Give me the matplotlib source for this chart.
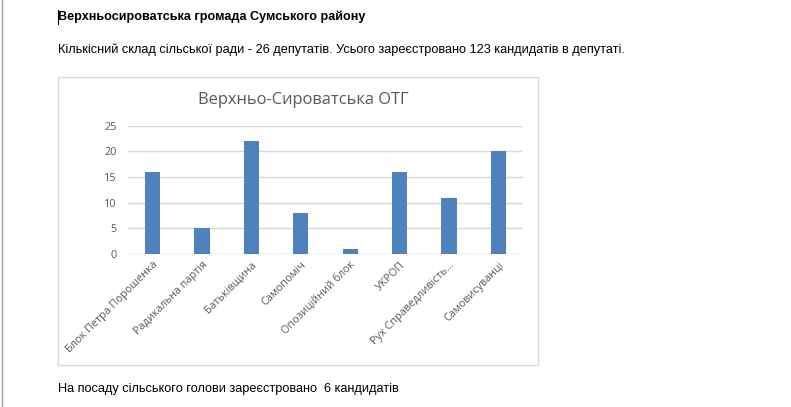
import numpy as np
import matplotlib.pyplot as plt
from matplotlib.patches import Rectangle
from matplotlib.lines import Line2D

parties = ['Блок Петра Порошенка', 'Радикальна партія', 'Батьківщина', 'Самопоміч',
           'Опозиційний блок', 'УКРОП', 'Рух Справедливість...', 'Самовисуванці']
candidates = [16, 5, 22, 8, 1, 16, 11, 20]
y_ticks = [0, 5, 10, 15, 20, 25]

heading = 'Верхньосироватська громада Сумського району'
intro = 'Кількісний склад сільської ради - 26 депутатів. Усього зареєстровано 123 кандидатів в депутаті.'
footer = 'На посаду сільського голови зареєстровано  6 кандидатів'
chart_title = 'Верхньо-Сироватська ОТГ'

W, H = 791, 407
fig = plt.figure(figsize=(W / 100, H / 100), dpi=100)
fig.patch.set_facecolor('white')

def fx(px):
    return px / W

def fy(py):
    return 1 - py / H

doc_font = ['Liberation Sans', 'DejaVu Sans']
chart_font = ['Open Sans', 'DejaVu Sans']

# page edge on the left
fig.add_artist(Line2D([fx(2), fx(2)], [0, 1], color='#a0a0a0', lw=1))

# document text (with the text cursor before the heading)
fig.add_artist(Line2D([fx(58), fx(58)], [fy(10), fy(24)], color='black', lw=0.8))
fig.text(fx(58), fy(17), heading, family=doc_font, fontsize=9.1, fontweight='bold',
         va='center', ha='left')
fig.text(fx(58), fy(50), intro, family=doc_font, fontsize=9.2, va='center', ha='left')
fig.text(fx(58), fy(389), footer, family=doc_font, fontsize=9.2, va='center', ha='left')

# chart frame
fig.add_artist(Rectangle((fx(58), fy(365)), fx(538) - fx(58), fy(77) - fy(365),
                         fill=False, edgecolor='#d9d9d9', lw=1))
fig.text(fx(303), fy(100), chart_title, family=chart_font, fontsize=11.9,
         color='#595959', ha='center', va='center')

# plot area
ax = fig.add_axes([fx(128), fy(254), fx(523) - fx(128), fy(125.7) - fy(254)])
x = np.arange(len(parties))
ax.bar(x, candidates, width=0.31, color='#4f81bd', zorder=3)
ax.set_xlim(-0.5, len(parties) - 0.5)
ax.set_ylim(0, 25)
ax.set_yticks(y_ticks)
ax.grid(axis='y', color='#d9d9d9', lw=1, zorder=0)
for s in ax.spines.values():
    s.set_visible(False)
ax.axhline(0, color='#d9d9d9', lw=1, zorder=2)
ax.tick_params(axis='both', length=0, colors='#595959', labelsize=7.8)
ax.tick_params(axis='y', pad=8)
ax.tick_params(axis='x', pad=4)
ax.set_xticks(x)
ax.set_xticklabels(parties, rotation=45, ha='right', rotation_mode='anchor', family=chart_font)
for lab in ax.get_yticklabels():
    lab.set_family(chart_font)

fig.savefig('out.png', dpi=100)
